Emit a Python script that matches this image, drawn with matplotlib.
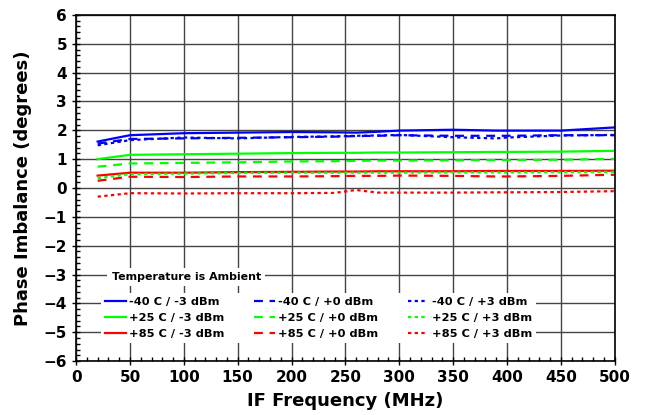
import matplotlib
matplotlib.use("Agg")
import matplotlib.pyplot as plt
from matplotlib.ticker import MultipleLocator

plt.rcParams['font.family'] = ['DejaVu Sans']
plt.rcParams['font.weight'] = 'bold'

freq = [20, 50, 100, 150, 200, 240, 260, 280, 300, 350, 390, 400, 450, 500]

m40_m3 = [1.61, 1.83, 1.90, 1.92, 1.94, 1.93, 1.92, 1.95, 1.99, 2.02, 1.99, 1.99, 1.99, 2.10]
m40_p0 = [1.54, 1.70, 1.72, 1.74, 1.76, 1.78, 1.80, 1.81, 1.83, 1.81, 1.81, 1.81, 1.83, 1.83]
m40_p3 = [1.48, 1.66, 1.75, 1.72, 1.77, 1.79, 1.81, 1.82, 1.84, 1.76, 1.72, 1.75, 1.82, 1.84]
p25_m3 = [1.00, 1.15, 1.17, 1.19, 1.21, 1.22, 1.22, 1.23, 1.23, 1.24, 1.25, 1.25, 1.26, 1.29]
p25_p0 = [0.74, 0.85, 0.87, 0.89, 0.92, 0.93, 0.94, 0.95, 0.95, 0.96, 0.97, 0.97, 0.98, 1.01]
p25_p3 = [0.34, 0.48, 0.50, 0.52, 0.53, 0.53, 0.53, 0.53, 0.53, 0.54, 0.54, 0.54, 0.55, 0.56]
p85_m3 = [0.43, 0.53, 0.53, 0.55, 0.56, 0.57, 0.57, 0.58, 0.58, 0.58, 0.59, 0.59, 0.59, 0.60]
p85_p0 = [0.25, 0.39, 0.38, 0.40, 0.40, 0.41, 0.42, 0.42, 0.43, 0.42, 0.40, 0.40, 0.42, 0.46]
p85_p3 = [-0.30, -0.18, -0.19, -0.18, -0.18, -0.17, -0.07, -0.16, -0.16, -0.16, -0.15, -0.15, -0.14, -0.11]

labels = ["-40 C / -3 dBm", "+25 C / -3 dBm", "+85 C / -3 dBm",
          "-40 C / +0 dBm", "+25 C / +0 dBm", "+85 C / +0 dBm",
          "-40 C / +3 dBm", "+25 C / +3 dBm", "+85 C / +3 dBm"]
series = [m40_m3, p25_m3, p85_m3, m40_p0, p25_p0, p85_p0, m40_p3, p25_p3, p85_p3]
colors = ['#0000ff', '#00ff00', '#ff0000'] * 3
styles = ['-'] * 3 + [(0, (4, 3))] * 3 + [(0, (1.5, 1.5))] * 3

fig = plt.figure(figsize=(6.45, 4.15), dpi=100)
ax = fig.add_axes([0.118, 0.130, 0.835, 0.834])

handles = []
for s, c, ls, lab in zip(series, colors, styles, labels):
    h, = ax.plot(freq, s, color=c, linestyle=ls, linewidth=1.6, label=lab)
    handles.append(h)

ax.set_xlim(0, 500)
ax.set_ylim(-6, 6)
ax.xaxis.set_major_locator(MultipleLocator(50))
ax.xaxis.set_minor_locator(MultipleLocator(10))
ax.yaxis.set_major_locator(MultipleLocator(1))
ax.yaxis.set_minor_locator(MultipleLocator(0.2))
ax.tick_params(which='major', direction='inout', length=6, width=1, labelsize=11)
ax.tick_params(which='minor', direction='in', length=3, width=1)
for lab in ax.get_xticklabels() + ax.get_yticklabels():
    lab.set_fontweight('bold')
ax.grid(True, which='major', color='#444444', linewidth=1)
for sp in ax.spines.values():
    sp.set_linewidth(1.2)

ax.set_xlabel("IF Frequency (MHz)", fontsize=13, fontweight='bold', labelpad=5)
ax.set_ylabel("Phase Imbalance (degrees)", fontsize=13, fontweight='bold', labelpad=8)

leg = ax.legend(handles=handles, ncol=3, loc='lower left', bbox_to_anchor=(0.035, 0.035),
                frameon=True, fancybox=False, edgecolor='none', framealpha=1,
                prop={'weight': 'bold', 'size': 8.2}, handlelength=1.8,
                columnspacing=2.6, labelspacing=0.5, borderpad=0.4, handletextpad=0.3)

ax.text(0.066, 0.242, "Temperature is Ambient", transform=ax.transAxes,
        fontsize=7.9, fontweight='bold', va='center', ha='left',
        bbox=dict(facecolor='white', edgecolor='none', pad=3))

fig.savefig("out.png", dpi=100)
